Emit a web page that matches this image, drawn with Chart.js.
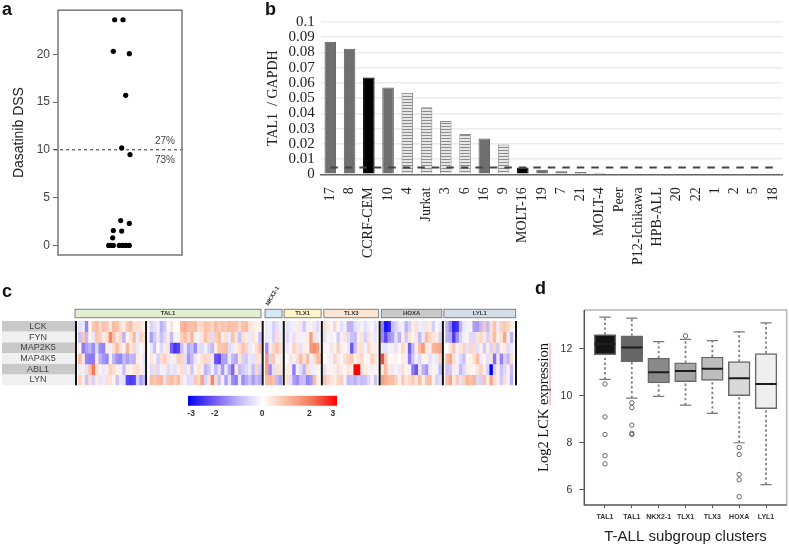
<!DOCTYPE html>
<html>
<head>
<meta charset="utf-8">
<style>
  body { margin: 0; background: #fff; }
  #page { position: relative; width: 789px; height: 546px; overflow: hidden; }
  canvas { position: absolute; }
  .tag { position: absolute; font: bold 18px "Liberation Sans", sans-serif; line-height: 18px; color: #111; }
</style>
<script src="https://cdn.jsdelivr.net/npm/chart.js@4/dist/chart.umd.min.js"></script>
</head>
<body>
<div id="page">
  <canvas id="chartA" width="250" height="270" style="left:0;top:0"></canvas>
  <canvas id="chartB" width="535" height="290" style="left:260px;top:0"></canvas>
  <canvas id="chartC" width="530" height="108" style="left:0;top:282px"></canvas>
  <canvas id="chartBar" width="170" height="28" style="left:180px;top:392px"></canvas>
  <canvas id="chartD" width="259" height="256" style="left:530px;top:290px"></canvas>
  <span class="tag" style="left:2px;top:0">a</span>
  <span class="tag" style="left:265px;top:0">b</span>
  <span class="tag" style="left:2px;top:282px">c</span>
  <span class="tag" style="left:535px;top:279px">d</span>
</div>
<script>
const SANS = '"Liberation Sans", Arial, sans-serif';
const SERIF = '"Liberation Serif", "Times New Roman", serif';

// panel a
const dssJitter = [-5.3, 3, -6.7, 9.3, 5.7, 1.7, 10, 0.7, 9.3, -6.7, 1.7, -7.3, -11.3, -9, -6.7, -0.7, 2.7, 6, 9.3];
const dssValues = [23.6, 23.6, 20.3, 20.05, 15.7, 10.2, 9.5, 2.6, 2.3, 1.55, 1.5, 0.8, 0, 0, 0, 0, 0, 0, 0];
const dssCutoff = 10;
const dssNotes = ["27%", "73%"];

// panel b
const cellLines = ["17", "8", "CCRF-CEM", "10", "4", "Jurkat", "3", "6", "16", "9", "MOLT-16", "19", "7", "21",
  "MOLT-4", "Peer", "P12-Ichikawa", "HPB-ALL", "20", "22", "1", "2", "5", "18"];
const tal1Values = [0.087, 0.0825, 0.0635, 0.057, 0.0535, 0.044, 0.035, 0.0265, 0.0235, 0.0195, 0.0045, 0.003,
  0.002, 0.0015, 0.001, 0.0005, 0, 0, 0, 0, 0, 0, 0, 0];
const tal1Kinds = ["g", "g", "k", "g", "h", "h", "h", "h", "g", "h", "k", "g", "g", "g", "g", "g", "g", "g", "g", "g", "g", "g", "g", "g"];
const tal1Cutoff = 0.0045;

// panel c
const heatGenes = ["LCK", "FYN", "MAP2K5", "MAP4K5", "ABL1", "LYN"];
const heatLCK = [
  0,-.4,-.3,-1.5,.1,.8,1,.6,.9,.8,
  .4,1,.9,.5,.3,.8,1,.4,.5,.4,
  .2,0,-.6,-.4,-.2,-1,-.7,.1,.4,0,
  0,1.1,1.2,1,.9,1,.5,.6,.9,.8,
  .6,1,.7,.9,.8,1,.9,.9,.6,.9,
  1,.4,.3,.2,.2,0,-.3,-.2,-.6,-.4,
  -.2,0,-.4,-.3,-.2,.3,-.3,-.7,-.2,.2,
  -.3,-.5,0,.5,.3,-.1,.6,-.1,-.4,-.2,
  -1,-1,-.4,-.3,.2,-.4,-.2,-.1,-.4,0,
  -1.5,-2.8,-2.6,-.8,-.6,-.3,-.2,-1,-.6,.3,
  .5,-.2,-.3,.4,.3,-.6,-.1,-.3,0,-1,
  -1.5,-2.6,-2.4,-1,-.3,-.2,.2,-1.2,-1.3,-.9,
  .8,-.9,.5,.9,-.3,.7,.8,.6,.3,0];
const heatFYN = [
  0,-.8,.8,-.9,.2,-.3,.9,.7,.3,.5,
  1.8,.9,.3,.6,-1,.2,.4,1,-.3,.7,
  .4,0,-1.2,-.7,-.3,-.8,-.5,.3,-.9,.2,
  -.2,.7,1,.5,1.1,.2,-.2,.4,.9,.6,
  -.5,.7,1,.2,.5,-.3,.9,.4,-.8,.5,
  .3,-.3,.4,.2,-.8,0,-.3,-.2,-.6,.5,
  -.3,0,-.5,-.2,-.4,.3,-.2,-.2,.3,1.4,
  .4,-.3,0,-.4,.2,-.2,.1,-.7,-.2,.4,
  -.5,-.8,-.9,.3,.4,-.6,.4,-.2,-.3,0,
  -1.4,-2.2,-1.4,-1.2,-.4,-1,.3,-.7,.4,.2,
  .4,-.9,-.3,1,.6,.4,.3,-.6,0,-1,
  -1.1,-2.3,-1.4,-.6,-.2,.2,-.5,-.5,.4,.6,
  .3,-.6,.5,1,.2,.5,1.3,.2,-1,0];
const heatMAP2K5 = [
  0,.2,-1.6,-1.2,-1,-1.4,-.5,-1.4,-1.5,.3,
  -.2,.5,1,.4,.2,1.1,.3,.6,-.3,-.1,
  .3,0,-.3,-.8,.1,-.5,-.2,.4,-1.9,-2.4,
  -2.2,-.8,-.3,-1.1,-.8,-1.4,-.4,-.5,-.2,-.6,
  -.9,.3,.8,.9,1,-.5,-.3,.3,.5,.9,
  .6,-.3,.2,.5,.9,0,-1.4,.3,.6,.9,
  .5,0,-.3,.2,.7,.4,-.4,.3,.2,1.5,
  1.7,1.4,0,.2,-.1,.4,-.2,.7,.3,-.1,
  -.3,-2,-.8,.4,.5,-.2,.6,.2,.3,0,
  -.3,-.4,-.2,.3,-.4,.2,.6,.3,-1.9,-.9,
  .3,1,1.5,.3,.3,1.1,1.2,1.3,0,0,
  .4,.8,-.2,.4,.6,-.4,.6,.5,-.4,.2,
  -.7,.3,-.6,.6,-.7,.2,.3,-.5,-.3,0];
const heatMAP4K5 = [
  0,1,.3,-1.5,-1.6,-1.6,.3,-1,-1.3,-1.5,
  -.2,-1,-1.4,-1.5,-.9,-1.2,-.9,-1,.3,.2,
  -.4,0,.4,.2,-.6,.5,.7,.4,-.2,.3,
  .7,.6,-.4,-1.3,-.9,-.3,.2,.5,.6,.5,
  -.3,-2,-2.2,-1.2,-1.2,-.3,-.9,-1.1,.4,-.6,
  -.7,-.3,-.4,.5,.4,0,1.5,-.6,.8,.2,
  .3,0,.1,.4,-.2,.5,1,.4,1,-.2,
  .5,1,.9,0,.2,-.2,.6,.3,-.1,.5,
  .7,.8,.2,.4,.6,.1,.2,.7,.4,0,
  2.4,.8,.1,.1,.2,0,.3,-.2,-1.6,-.7,
  -.2,-.5,.2,.2,-.4,-.2,-.3,.7,0,1,
  1.3,.5,-.2,-.5,-.8,.1,.2,.5,1,-.3,
  .2,-.4,.4,-1.7,-.3,-1.5,-.6,-.9,.5,0];
const heatABL1 = [
  0,-.3,.3,-.4,.9,2,.5,.2,-.3,.3,
  .7,.5,.2,-.2,-.8,.3,.2,.4,.5,.3,
  -.3,0,-.5,.5,-.5,-.2,.3,-.5,-.3,-.4,
  .3,.5,-.4,.3,-.7,.2,.4,.3,-1,-.7,
  -.2,-.9,-.4,-1.3,-.3,-1.1,-1.8,.3,-.9,-.7,
  -.5,-.3,-.9,.6,-.7,0,1.4,-1.4,-.4,.5,
  .4,0,.3,-.2,-1.6,-.2,-.4,-1,.5,-.3,
  -.2,.2,0,-.4,.2,.2,-.2,.5,.3,.1,
  .4,.3,3,3,.4,.3,.2,-.2,.2,0,
  .4,1,.3,-.3,.2,-.3,.5,.2,-.2,-1.6,
  -2,-.3,-1,-1.3,-.3,.2,-.2,-.9,0,-.8,
  -.7,.3,-.2,-.9,-.5,.3,.2,-.1,.4,.7,
  .2,-.6,-3,-.6,.3,-.8,-.5,.3,-.9,0];
const heatLYN = [
  0,.7,.3,-.8,.5,-.6,.3,-.4,-.3,.5,
  .4,.2,-.8,-.3,-.4,-2.2,-2.3,-2.2,-.6,-1.2,
  -.9,0,1,.8,1,1.1,-.4,.9,1,.7,
  1,.4,-.2,-.5,-.4,.8,.6,1.4,-.6,.4,
  1.8,.5,-.8,-.2,-1.2,-.4,-1.4,-1.6,-.3,-1.4,
  -1.1,-.8,-1.2,-.9,-1.1,0,1,1.1,.9,-.9,
  -1.2,0,.5,-.4,-1.2,-1.4,-.9,-.8,-1.5,-1.3,
  1,.3,0,.9,.6,.4,.3,.6,.7,-.2,
  -.9,-.8,-1,-.7,-.9,-.8,-.5,.2,-.8,0,
  1.4,1.2,1,1,.7,.2,.8,.4,.6,.8,
  .4,1,.2,.9,1,.2,-.6,-.4,0,1,
  1.3,.3,.8,-.4,.7,1.1,.9,1.1,-.5,-.6,
  .9,.3,1.3,.5,.3,-.7,.5,-.2,-1,0];
const heatRows = [heatLCK, heatFYN, heatMAP2K5, heatMAP4K5, heatABL1, heatLYN];
const groupNames = ["TAL1", "NKX2-1", "TLX1", "TLX3", "HOXA", "LYL1"];
const groupFrom = [-0.5, 55.4, 61, 72.7, 89.6, 108];
const groupTo = [54.2, 60.4, 71.9, 88.8, 107.4, 129.1];
const groupColors = ["#e2efd0", "#d8e7f5", "#fdf4c9", "#fde5d6", "#c9c9c9", "#d5dde8"];
const separators = [-0.2, 20.4, 54.7, 60.9, 72.1, 89.1, 107.7, 129.2];
const colorTicks = [-3, -2, 0, 2, 3];

// panel d
const clusters = ["TAL1", "TAL1", "NKX2-1", "TLX1", "TLX3", "HOXA", "LYL1"];
const boxLow = [10.7, 9.9, 9.97, 9.6, 9.25, 8, 6.22];
const boxQ1 = [11.75, 11.45, 10.55, 10.6, 10.65, 10, 9.45];
const boxMedian = [12.2, 12.05, 11, 11.05, 11.15, 10.75, 10.5];
const boxQ3 = [12.6, 12.55, 11.6, 11.4, 11.65, 11.45, 11.8];
const boxHigh = [13.35, 13.3, 12.3, 12.4, 12.35, 12.72, 13.1];
const boxFills = ["#141414", "#666666", "#8a8a8a", "#a6a6a6", "#bebebe", "#d9d9d9", "#efefef"];
const outlierCluster = [1, 1, 1, 1, 1, 2, 2, 2, 2, 2, 4, 6, 6, 6, 6, 6];
const outlierValues = [10.5, 9.1, 8.35, 7.45, 7.1, 9.7, 9.5, 8.75, 8.4, 8.35, 12.55, 7.8, 7.5, 6.65, 6.42, 5.7];

Chart.defaults.animation = false;
Chart.defaults.responsive = false;
Chart.defaults.font.family = SANS;
Chart.defaults.plugins.legend.display = false;
Chart.defaults.plugins.tooltip.enabled = false;

// box round the plot area
const frame = {
  id: "frame",
  afterDatasetsDraw(chart, args, opts) {
    const { ctx, chartArea: a } = chart;
    ctx.save();
    ctx.lineWidth = opts.width || 1.5;
    ctx.strokeStyle = opts.color || "#777";
    ctx.strokeRect(a.left, a.top, a.right - a.left, a.bottom - a.top);
    ctx.restore();
  }
};

// panel a
const aLabels = {
  id: "aLabels",
  afterDatasetsDraw(chart) {
    const { ctx, chartArea: a, scales } = chart;
    ctx.save();
    ctx.font = "10px " + SANS;
    ctx.fillStyle = "#444";
    ctx.textAlign = "center";
    ctx.textBaseline = "middle";
    const y = scales.y.getPixelForValue(dssCutoff);
    ctx.fillText(dssNotes[0], a.right - 17, y - 9);
    ctx.fillText(dssNotes[1], a.right - 17, y + 10);
    ctx.restore();
  }
};

new Chart(document.getElementById("chartA"), {
  type: "scatter",
  data: {
    datasets: [
      {
        data: dssValues.map((v, i) => ({ x: dssJitter[i], y: v })),
        pointRadius: 2.6,
        pointBackgroundColor: "#000",
        pointBorderWidth: 0
      },
      {
        type: "line",
        data: [{ x: -66, y: dssCutoff }, { x: 62, y: dssCutoff }],
        borderColor: "#333",
        borderWidth: 1,
        borderDash: [3, 3],
        pointRadius: 0,
        clip: false
      }
    ]
  },
  options: {
    layout: { autoPadding: false, padding: { left: 8, right: 68, top: 8, bottom: 15 } },
    scales: {
      x: { type: "linear", min: -62, max: 62, display: false },
      y: {
        min: -1,
        max: 24.6,
        afterFit: s => { s.width = 50; },
        grid: { drawOnChartArea: false, color: "#666", tickLength: 5 },
        border: { display: false },
        ticks: { stepSize: 5, includeBounds: false, color: "#444", font: { size: 12 }, padding: 3 },
        title: { display: true, text: "Dasatinib DSS", color: "#222", font: { size: 14 }, padding: { top: 3, bottom: 0 } }
      }
    },
    plugins: { frame: { color: "#777", width: 1.5 } }
  },
  plugins: [frame, aLabels]
});

// panel b
function stripes() {
  const c = document.createElement("canvas");
  c.width = 2;
  c.height = 3;
  const g = c.getContext("2d");
  g.fillStyle = "#e6e6e6";
  g.fillRect(0, 0, 2, 3);
  g.fillStyle = "#8c8c8c";
  g.fillRect(0, 0, 2, 1);
  return g.createPattern(c, "repeat");
}
const hatch = stripes();

new Chart(document.getElementById("chartB"), {
  type: "bar",
  data: {
    labels: cellLines,
    datasets: [
      {
        type: "line",
        data: cellLines.map(() => tal1Cutoff),
        borderColor: "#444",
        borderWidth: 2,
        borderDash: [7.5, 7],
        pointRadius: 0,
        order: 0
      },
      {
        data: tal1Values,
        backgroundColor: tal1Kinds.map(k => k === "k" ? "#000" : k === "h" ? hatch : "#6f6f6f"),
        borderColor: tal1Kinds.map(k => k === "k" ? "#000" : k === "h" ? "#8a8a8a" : "#5a5a5a"),
        borderWidth: 1,
        categoryPercentage: 1,
        barPercentage: 0.6,
        order: 1
      }
    ]
  },
  options: {
    layout: { autoPadding: false, padding: { left: 0, right: 6.7, top: 22, bottom: 0 } },
    scales: {
      x: {
        afterFit: s => { s.height = 115.7; },
        grid: { display: false },
        border: { color: "#666", width: 1.5 },
        ticks: {
          autoSkip: false, minRotation: 90, maxRotation: 90, padding: 5,
          color: "#222", font: { family: SERIF, size: 14 }
        }
      },
      y: {
        min: 0,
        max: 0.1,
        afterFit: s => { s.width = 60.7; },
        grid: { color: "#ececec", lineWidth: 1.5, drawTicks: false },
        border: { display: false },
        ticks: {
          stepSize: 0.01, autoSkip: false, padding: 6, color: "#222", font: { family: SERIF, size: 15 },
          callback: v => String(Number(v.toFixed(2)))
        },
        title: { display: true, text: "TAL1  / GAPDH", color: "#222", font: { family: SERIF, size: 14 }, padding: { top: 5, bottom: 0 } }
      }
    }
  }
});

// panel c
const heatStops = [
  [-3, 0, 0, 255], [-2, 110, 85, 240], [-1, 190, 178, 247], [0, 255, 255, 255],
  [1, 250, 188, 162], [2, 245, 118, 88], [3, 255, 0, 0]
];
function heatColor(v) {
  for (let i = 1; i < heatStops.length; i++) {
    const a = heatStops[i - 1], b = heatStops[i];
    if (v <= b[0]) {
      const t = Math.max(0, v - a[0]);
      return `rgb(${a[1] + (b[1] - a[1]) * t},${a[2] + (b[2] - a[2]) * t},${a[3] + (b[3] - a[3]) * t})`;
    }
  }
  return "rgb(255,0,0)";
}

const heatDecor = {
  id: "heatDecor",
  beforeDatasetsDraw(chart) {
    const { ctx, chartArea: a, scales } = chart;
    const rowH = (a.bottom - a.top) / heatGenes.length;
    ctx.save();
    ctx.textAlign = "center";
    ctx.textBaseline = "middle";
    heatGenes.forEach((g, i) => {
      ctx.fillStyle = i % 2 ? "#f0f0f0" : "#c9c9c9";
      ctx.fillRect(2, a.top + i * rowH, a.left - 2, rowH);
      ctx.fillStyle = "#444";
      ctx.font = "9px " + SANS;
      ctx.fillText(g, 38, a.top + (i + 0.5) * rowH);
    });
    groupNames.forEach((g, i) => {
      const x0 = scales.x.getPixelForValue(groupFrom[i]);
      const x1 = scales.x.getPixelForValue(groupTo[i]);
      ctx.fillStyle = groupColors[i];
      ctx.strokeStyle = "#808080";
      ctx.lineWidth = 1;
      ctx.fillRect(x0, a.top - 11.7, x1 - x0, 8.4);
      ctx.strokeRect(x0, a.top - 11.7, x1 - x0, 8.4);
      ctx.fillStyle = "#333";
      ctx.font = "bold 6px " + SANS;
      if (g === "NKX2-1") {
        ctx.save();
        ctx.translate((x0 + x1) / 2 - 1, a.top - 25);
        ctx.rotate(-Math.PI / 3);
        ctx.fillText(g, 0, 0);
        ctx.restore();
      } else {
        ctx.fillText(g, (x0 + x1) / 2, a.top - 7.5);
      }
    });
    ctx.restore();
  },
  afterDatasetsDraw(chart) {
    const { ctx, chartArea: a, scales } = chart;
    ctx.save();
    ctx.strokeStyle = "#111";
    ctx.lineWidth = 2;
    separators.forEach(s => {
      const x = scales.x.getPixelForValue(s);
      ctx.beginPath();
      ctx.moveTo(x, a.top);
      ctx.lineTo(x, a.bottom);
      ctx.stroke();
    });
    ctx.restore();
  }
};

new Chart(document.getElementById("chartC"), {
  type: "bar",
  data: {
    labels: heatLCK.map((v, i) => i),
    datasets: heatRows.map((row, r) => ({
      label: heatGenes[r],
      data: row.map(() => [r, r + 1]),
      backgroundColor: row.map(heatColor),
      borderWidth: 0,
      categoryPercentage: 1,
      barPercentage: 1,
      grouped: false
    }))
  },
  options: {
    layout: { padding: { left: 75, right: 13, top: 39, bottom: 4.7 } },
    scales: {
      x: { display: false },
      y: { display: false, min: 0, max: 6, reverse: true }
    }
  },
  plugins: [heatDecor]
});

// colour key
new Chart(document.getElementById("chartBar"), {
  type: "bar",
  data: {
    labels: ["key"],
    datasets: [{
      data: [[-3.13, 3.17]],
      borderWidth: 0,
      categoryPercentage: 1,
      barPercentage: 1,
      backgroundColor(ctx) {
        const a = ctx.chart.chartArea;
        if (!a) return "#fff";
        const g = ctx.chart.ctx.createLinearGradient(a.left, 0, a.right, 0);
        heatStops.forEach(s => {
          g.addColorStop((s[0] + 3) / 6, `rgb(${s[1]},${s[2]},${s[3]})`);
        });
        return g;
      }
    }]
  },
  options: {
    indexAxis: "y",
    layout: { autoPadding: false, padding: { left: 8, right: 13, top: 3.7, bottom: 0 } },
    scales: {
      y: { display: false },
      x: {
        min: -3.13,
        max: 3.17,
        afterBuildTicks: s => { s.ticks = colorTicks.map(v => ({ value: v })); },
        afterFit: s => { s.height = 14.3; },
        grid: { display: false, drawTicks: false },
        border: { display: false },
        ticks: { color: "#333", font: { size: 8.5, weight: "bold" }, padding: 3, maxRotation: 0, autoSkip: false }
      }
    }
  }
});

// panel d
const whiskers = [], caps = [], medians = [];
clusters.forEach((c, i) => {
  const x = i + 1;
  whiskers.push({ x, y: boxLow[i] }, { x, y: boxQ1[i] }, { x, y: null });
  whiskers.push({ x, y: boxQ3[i] }, { x, y: boxHigh[i] }, { x, y: null });
  caps.push({ x: x - 0.21, y: boxLow[i] }, { x: x + 0.21, y: boxLow[i] }, { x, y: null });
  caps.push({ x: x - 0.21, y: boxHigh[i] }, { x: x + 0.21, y: boxHigh[i] }, { x, y: null });
  medians.push({ x: x - 0.39, y: boxMedian[i] }, { x: x + 0.39, y: boxMedian[i] }, { x, y: null });
});

const dFrame = {
  id: "dFrame",
  beforeDatasetsDraw(chart) {
    const { ctx, chartArea: a } = chart;
    ctx.save();
    ctx.strokeStyle = "#b5b5b5";
    ctx.lineWidth = 1.5;
    ctx.beginPath();
    ctx.moveTo(a.left, a.top);
    ctx.lineTo(a.right, a.top);
    ctx.lineTo(a.right, a.bottom);
    ctx.stroke();
    ctx.strokeStyle = "#555";
    ctx.beginPath();
    ctx.moveTo(a.left, a.top);
    ctx.lineTo(a.left, a.bottom);
    ctx.lineTo(a.right, a.bottom);
    ctx.stroke();
    // pink spell-check mark beside the axis title
    ctx.strokeStyle = "rgba(240,120,140,0.55)";
    ctx.lineWidth = 1.5;
    ctx.beginPath();
    ctx.moveTo(20, 53);
    ctx.lineTo(20, 115);
    ctx.stroke();
    ctx.restore();
  }
};

new Chart(document.getElementById("chartD"), {
  data: {
    datasets: [
      {
        type: "line",
        data: whiskers,
        borderColor: "#808080",
        borderWidth: 1.8,
        borderDash: [2.4, 2.4],
        pointRadius: 0,
        order: 4
      },
      {
        type: "line",
        data: caps,
        borderColor: "#777",
        borderWidth: 1.2,
        pointRadius: 0,
        order: 4
      },
      {
        type: "bar",
        data: clusters.map((c, i) => ({ x: i + 1, y: [boxQ1[i], boxQ3[i]] })),
        backgroundColor: boxFills,
        borderColor: "#6a6a6a",
        borderWidth: 1.5,
        borderSkipped: false,
        barThickness: 21.7,
        order: 3
      },
      {
        type: "line",
        data: medians,
        borderColor: "#1c1c1c",
        borderWidth: 2,
        pointRadius: 0,
        order: 2
      },
      {
        type: "scatter",
        data: outlierValues.map((v, i) => ({ x: outlierCluster[i], y: v })),
        pointRadius: 2.2,
        pointBackgroundColor: "rgba(255,255,255,0)",
        pointBorderColor: "#666",
        pointBorderWidth: 1,
        order: 1
      }
    ]
  },
  options: {
    layout: { autoPadding: false, padding: { left: 0, right: 2.3, top: 20, bottom: 0 } },
    scales: {
      x: {
        type: "linear",
        offset: false,
        min: 0.23,
        max: 7.77,
        afterFit: s => { s.height = 41; },
        grid: { drawOnChartArea: false, offset: false, color: "#555", tickLength: 3 },
        border: { display: false },
        ticks: {
          stepSize: 1, includeBounds: false, maxRotation: 0, autoSkip: false, padding: 5,
          color: "#333", font: { size: 7, weight: "bold" },
          callback: v => clusters[v - 1]
        },
        title: { display: true, text: "T-ALL subgroup clusters", color: "#222", font: { size: 15 }, padding: { top: 0, bottom: 0 } }
      },
      y: {
        min: 5.35,
        max: 13.65,
        afterFit: s => { s.width = 54.3; },
        grid: { drawOnChartArea: false, color: "#555", tickLength: 5 },
        border: { display: false },
        ticks: { stepSize: 2, includeBounds: false, color: "#333", font: { size: 10.5 }, padding: 7 },
        title: { display: true, text: "Log2 LCK expression", color: "#111", font: { family: SERIF, size: 14.5 }, padding: { top: 5, bottom: 0 } }
      }
    }
  },
  plugins: [dFrame]
});
</script>
</body>
</html>
